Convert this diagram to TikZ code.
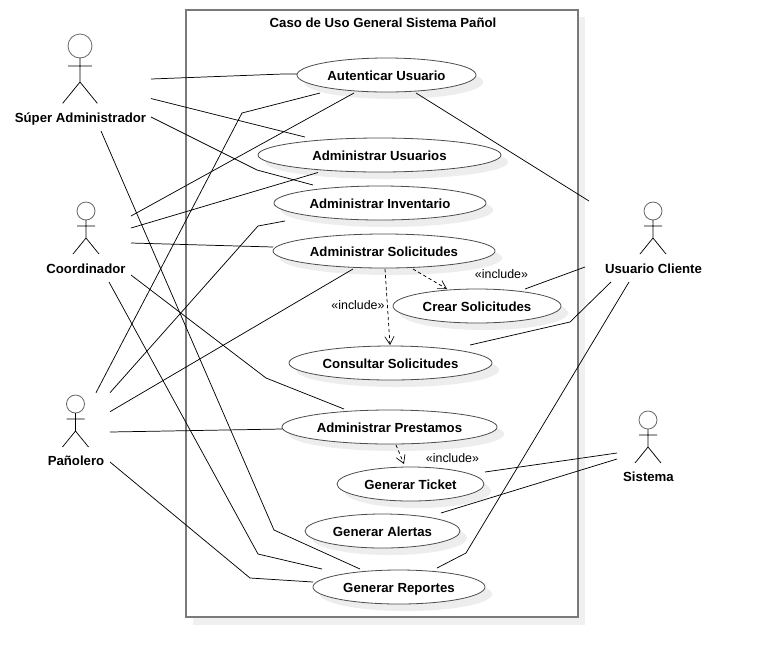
\documentclass[tikz,border=0pt]{standalone}
\usepackage{fontspec}
\setmainfont{Liberation Sans}
\usetikzlibrary{arrows.meta,shapes.geometric,shadows}
\tikzset{
  uc/.style n args={2}{ellipse,draw=black!70,line width=.6pt,fill=white,inner sep=0pt,minimum width=#1*.75pt,minimum height=#2*.75pt,
    font=\fontsize{9.9pt}{11pt}\bfseries,text height=8.6pt,text depth=0pt,drop shadow={shadow xshift=5.25pt,shadow yshift=-5.25pt,fill=black!7,opacity=1}},
  actorlabel/.style={font=\fontsize{9.9pt}{11pt}\bfseries,inner sep=0pt,text height=8.6pt,text depth=0pt},
  assoc/.style={draw=black,line width=.55pt},
  incl/.style={draw=black,line width=.55pt,dashed,dash pattern=on 2.5pt off 2pt,-{Straight Barb[length=6pt,width=7pt,line width=.5pt]}},
  stereo/.style={font=\fontsize{9.3pt}{10pt}\selectfont,inner sep=0pt},
  actor/.pic={
    \draw[black!60,line width=.6pt] (0,0) circle (9);
    \draw[black,line width=.55pt] (0,9) -- (0,27) (-9,15) -- (9,15) (-13,43) -- (0,27) -- (13,43);
  }
}
\begin{document}
\begin{tikzpicture}[x=.75pt,y=-.75pt]
\useasboundingbox (0,0) rectangle (760,658);
% system boundary
\fill[black!6] (193,17) rectangle (585,625);
\draw[black!52,line width=1.4pt,fill=white] (186,10) rectangle (578,617);
\node[font=\fontsize{9.9pt}{11pt}\bfseries,inner sep=0pt,text height=8.6pt,text depth=0pt] (title) at (383,22) {Caso de Uso General Sistema Pañol};
% use cases
\node[uc={179}{34}] (au) at (386.5,75) {Autenticar Usuario};
\node[uc={243}{34}] (us) at (379.5,155) {Administrar Usuarios};
\node[uc={212}{34}] (inv) at (380,203) {Administrar Inventario};
\node[uc={222}{34}] (sol) at (384,251) {Administrar Solicitudes};
\node[uc={168}{34}] (cr) at (477,306) {Crear Solicitudes};
\node[uc={203}{34}] (con) at (390.5,363) {Consultar Solicitudes};
\node[uc={215}{34}] (pre) at (389.5,427) {Administrar Prestamos};
\node[uc={147}{34}] (ti) at (410.5,484) {Generar Ticket};
\node[uc={155}{34}] (al) at (382.5,531) {Generar Alertas};
\node[uc={172}{34}] (re) at (399,587) {Generar Reportes};
% actors
\pic[scale=1.333] at (80,46) {actor};
\pic at (86,211) {actor};
\pic at (75.5,404) {actor};
\pic at (653,211) {actor};
\pic at (648,420) {actor};
\node[actorlabel] (sa) at (80.5,117) {Súper Administrador};
\node[actorlabel] (co) at (86,268) {Coordinador};
\node[actorlabel] (pa) at (76,460) {Pañolero};
\node[actorlabel] (cl) at (653.5,268) {Usuario Cliente};
\node[actorlabel] (si) at (648.5,476) {Sistema};
% associations
\draw[assoc] ([shift={(70.5,-38)}]sa.center) -- (283,74) -- ([shift={(-89.5,-1)}]au.center);
\draw[assoc] ([shift={(70.5,-18.5)}]sa.center) -- ([shift={(-74.5,-18)}]us.center);
\draw[assoc] ([shift={(70.5,0)}]sa.center) -- (257,170) -- ([shift={(-67,-18)}]inv.center);
\draw[assoc] ([shift={(20.5,14)}]sa.center) -- (274,530) -- ([shift={(-39,-18)}]re.center);
\draw[assoc] ([shift={(45,-52)}]co.center) -- ([shift={(-32.5,18)}]au.center);
\draw[assoc] ([shift={(45,-40)}]co.center) -- ([shift={(-61.5,17.5)}]us.center);
\draw[assoc] ([shift={(45,-25)}]co.center) -- ([shift={(-111,-4)}]sol.center);
\draw[assoc] ([shift={(45,7)}]co.center) -- (266,378) -- ([shift={(-45.5,-18)}]pre.center);
\draw[assoc] ([shift={(23,14)}]co.center) -- (258,554) -- ([shift={(-77,-18)}]re.center);
\draw[assoc] ([shift={(20,-67.3)}]pa.center) -- (242,113) -- ([shift={(-66.5,18)}]au.center);
\draw[assoc] ([shift={(34,-67.3)}]pa.center) -- (258,226) -- ([shift={(-95,18)}]inv.center);
\draw[assoc] ([shift={(34,-48.3)}]pa.center) -- ([shift={(-31,18)}]sol.center);
\draw[assoc] ([shift={(34,-28)}]pa.center) -- ([shift={(-107.5,2)}]pre.center);
\draw[assoc] ([shift={(34,2)}]pa.center) -- (250,578) -- ([shift={(-86,-5)}]re.center);
\draw[assoc] ([shift={(-64.5,-67)}]cl.center) -- ([shift={(29.5,18)}]au.center);
\draw[assoc] ([shift={(-68.5,-1)}]cl.center) -- ([shift={(48,-17)}]cr.center);
\draw[assoc] ([shift={(-42.5,14)}]cl.center) -- (570,322) -- ([shift={(79.5,-18)}]con.center);
\draw[assoc] ([shift={(-24.5,14)}]cl.center) -- (466,553) -- ([shift={(38,-19)}]re.center);
\draw[assoc] ([shift={(-31.5,-23)}]si.center) -- ([shift={(74.5,-12)}]ti.center);
\draw[assoc] ([shift={(-31.5,-17)}]si.center) -- ([shift={(58.5,-18)}]al.center);
% includes
\draw[incl] ([shift={(29,18)}]sol.center) -- ([shift={(-30,-17)}]cr.center);
\draw[incl] ([shift={(1,18)}]sol.center) -- ([shift={(-.5,-18)}]con.center);
\draw[incl] ([shift={(6.5,18)}]pre.center) -- ([shift={(-6.5,-20)}]ti.center);
\node[stereo] (l1) at (501.5,274) {«include»};
\node[stereo] (l2) at (358,305) {«include»};
\node[stereo] (l3) at (452.5,458) {«include»};
\end{tikzpicture}
\end{document}
